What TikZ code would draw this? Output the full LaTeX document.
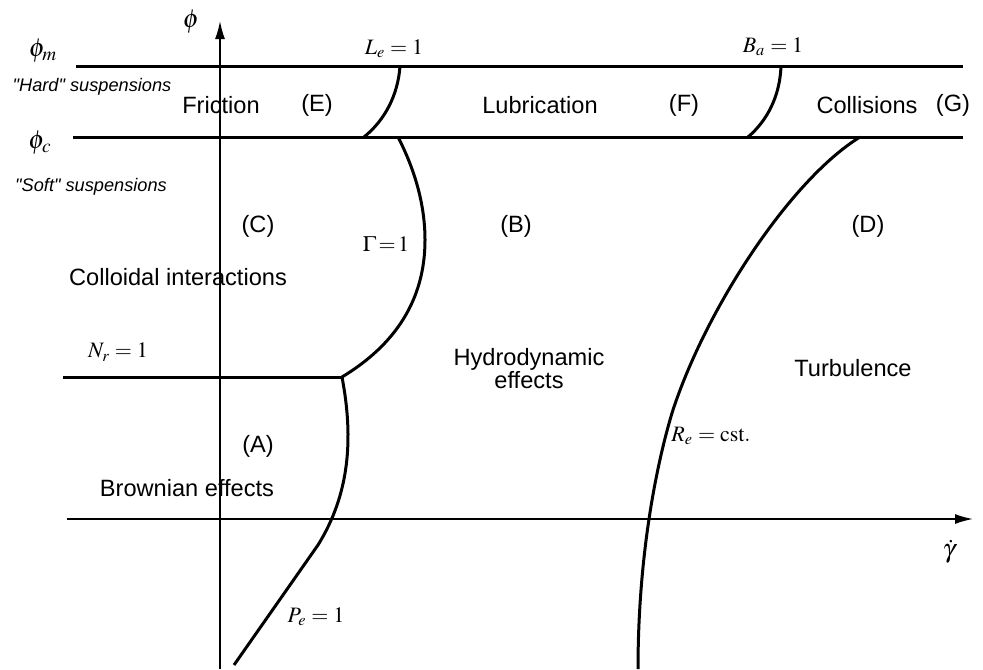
\documentclass[tikz,border=0pt]{standalone}
\usepackage{mathptmx}
\usepackage{fontspec}
\setmainfont{Liberation Serif}
\setsansfont{Liberation Sans}
\usetikzlibrary{arrows.meta}
\tikzset{zone/.style={font=\sffamily\fontsize{11.8}{11.5}\selectfont,align=center,inner sep=0pt},
  susp/.style={font=\sffamily\itshape\fontsize{9.1}{11}\selectfont,inner sep=0pt},
  crit/.style={font=\fontsize{11}{13}\selectfont,inner sep=0pt},
  axlabel/.style={font=\fontsize{13}{15}\selectfont,inner sep=0pt},
  bound/.style={line width=1.5pt},
  axis/.style={-{Latex[length=9pt,width=5pt]},line width=.8pt}}

\begin{document}
\begin{tikzpicture}[x=.5pt,y=-.5pt]
  \path[use as bounding box] (0,0) rectangle (983,669);
  % key points
  \coordinate (phimL) at (76,66);   \coordinate (phimR) at (963,66);
  \coordinate (phicL) at (73,137);  \coordinate (phicR) at (963,137);
  \coordinate (NrL) at (63,377);    \coordinate (Nrend) at (342,377);
  \coordinate (Gtop) at (398,137);  \coordinate (Pebot) at (234,665);
  \coordinate (Letop) at (400,66);  \coordinate (Lebot) at (364,137);
  \coordinate (Batop) at (781,66);  \coordinate (Babot) at (748,137);
  \coordinate (Retop) at (860,137); \coordinate (Rebot) at (638,669);
  % axes
  \draw[axis] (220,669) -- (220,21);
  \draw[axis] (67,519) -- (973,519);
  % boundaries
  \draw[bound] (phimL) -- (phimR);
  \draw[bound] (phicL) -- (phicR);
  \draw[bound] (NrL) -- (Nrend);
  \draw[bound] (Gtop) .. controls (415,170) and (425,205) .. (425,240)
    .. controls (425,300) and (395,345) .. (Nrend);
  \draw[bound] (Nrend) .. controls (354,440) and (349,495) .. (318,545) -- (Pebot);
  \draw[bound] (Letop) .. controls (398,95) and (385,120) .. (Lebot);
  \draw[bound] (Batop) .. controls (780,95) and (768,120) .. (Babot);
  \draw[bound] (Retop) .. controls (790,180) and (705,310) .. (672,413)
    .. controls (655,470) and (638,560) .. (Rebot);
  % criteria
  \node[axlabel] (phi) at (191,22) {$\phi$};
  \node[axlabel] (phim) at (43,51) {$\phi_m$};
  \node[axlabel] (phic) at (40,143) {$\phi_c$};
  \node[crit] (Le) at (394,49) {$L_e=1$};
  \node[crit] (Ba) at (773,47) {$B_a=1$};
  \node[crit] (Gam) at (386,244) {$\Gamma\!=\!1$};
  \node[crit] (Nr) at (118,352) {$N_r=1$};
  \node[crit] (Re) at (711,436) {$R_e=\mathrm{cst.}$};
  \node[crit] (Pe) at (316,617) {$P_e=1$};
  \node[axlabel] (gdot) at (949,552) {$\dot\gamma$};
  % regimes
  \node[susp] (hard) at (92,87) {\textquotedbl Hard\textquotedbl{} suspensions};
  \node[susp] (soft) at (91,187) {\textquotedbl Soft\textquotedbl{} suspensions};
  \node[zone] (fric) at (221,105) {Friction};
  \node[zone] (E) at (317,105) {(E)};
  \node[zone] (lub) at (540,105) {Lubrication};
  \node[zone] (F) at (684,105) {(F)};
  \node[zone] (colli) at (867,105) {Collisions};
  \node[zone] (G) at (953,105) {(G)};
  \node[zone] (C) at (258,226) {(C)};
  \node[zone] (B) at (516,226) {(B)};
  \node[zone] (D) at (868,226) {(D)};
  \node[zone] (collo) at (178,277) {Colloidal interactions};
  \node[zone] (hydro) at (529,369) {Hydrodynamic\\effects};
  \node[zone] (turb) at (853,368) {Turbulence};
  \node[zone] (A) at (258,446) {(A)};
  \node[zone] (brown) at (187,488) {Brownian effects};
\end{tikzpicture}
\end{document}
